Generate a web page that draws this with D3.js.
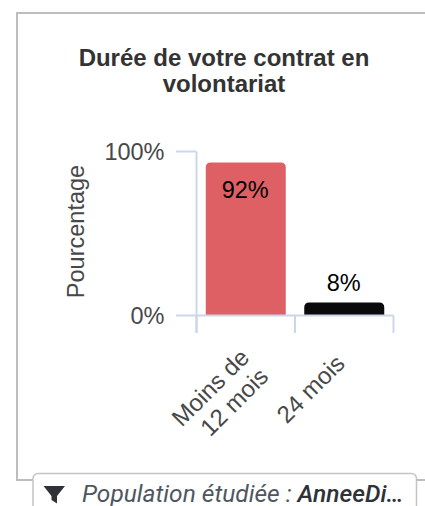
<!DOCTYPE html>
<html><head><meta charset="utf-8">
<script src="https://cdn.jsdelivr.net/npm/d3@7/dist/d3.min.js"></script>
<style>html,body{margin:0;padding:0;background:#fff;overflow:hidden}svg{display:block}</style>
</head><body><svg id="c" width="425" height="506"></svg>
<script>
const categories = [["Moins de","12 mois"],["24 mois"]];
const barHeights = [93.3, 8];
const valueLabels = ["92%","8%"];
const barColors = ["#DE6065","#0A0A0A"];
const yTickValues = [0, 100];
const titleLines = ["Durée de votre contrat en","volontariat"];
const yTitle = "Pourcentage";
const filterLabel = "Population étudiée : ";
const filterValue = "AnneeDi…";

const svg = d3.select("#c");
const font = "Liberation Sans, Arial, sans-serif";
const axisColor = "#CCD6EB";

svg.append("path").attr("d","M425,13H17V480H425").attr("fill","none").attr("stroke","#BDBDBD").attr("stroke-width",2);

svg.append("text").attr("text-anchor","middle").attr("font-family",font).attr("font-weight","bold")
  .attr("font-size",24).attr("fill","#333")
  .selectAll("tspan").data(titleLines).join("tspan")
  .attr("x",224).attr("y",(d,i)=>65.5+i*26).text(d=>d);

const y = d3.scaleLinear().domain([0,100]).range([315.5,151.5]);
const x = d3.scaleBand().domain(categories.map((d,i)=>i)).range([196.5,393.5]);
const barW = 80;

const g = svg.append("g");
g.selectAll("line.yt").data(yTickValues).join("line").attr("class","yt")
  .attr("x1",176).attr("x2",196.5).attr("y1",d=>y(d)).attr("y2",d=>y(d))
  .attr("stroke",axisColor).attr("stroke-width",2);
g.append("line").attr("x1",196.5).attr("x2",196.5).attr("y1",y(100)).attr("y2",333)
  .attr("stroke",axisColor).attr("stroke-width",2);

svg.selectAll("text.yl").data(yTickValues).join("text").attr("class","yl")
  .attr("x",164.5).attr("y",d=>y(d)+8.5).attr("text-anchor","end").attr("font-family",font)
  .attr("font-size",23.5).attr("fill","#484848").text(d=>d+"%");

svg.append("text").attr("transform","translate(84,231.5) rotate(-90)").attr("text-anchor","middle")
  .attr("font-family",font).attr("font-size",23.5).attr("fill","#484848").text(yTitle);

const r = 5;
svg.selectAll("path.bar").data(barHeights).join("path").attr("class","bar")
  .attr("fill",(d,i)=>barColors[i])
  .attr("d",(d,i)=>{
    const cx = x(i)+x.bandwidth()/2, l = cx-barW/2, rr = cx+barW/2, t = y(d), b = y(0);
    const p = d3.path();
    p.moveTo(l,b); p.lineTo(l,t+r); p.quadraticCurveTo(l,t,l+r,t);
    p.lineTo(rr-r,t); p.quadraticCurveTo(rr,t,rr,t+r); p.lineTo(rr,b); p.closePath();
    return p.toString();
  });

g.raise();
const xAxisG = svg.append("g");
xAxisG.append("line").attr("x1",196.5).attr("x2",393.5).attr("y1",y(0)).attr("y2",y(0))
  .attr("stroke",axisColor).attr("stroke-width",2);
xAxisG.selectAll("line.xt").data([0,1,2]).join("line").attr("class","xt")
  .attr("x1",d=>x.range()[0]+d*x.bandwidth()).attr("x2",d=>x.range()[0]+d*x.bandwidth())
  .attr("y1",y(0)).attr("y2",333).attr("stroke",axisColor).attr("stroke-width",2);

svg.selectAll("text.v").data(valueLabels).join("text").attr("class","v")
  .attr("x",(d,i)=>x(i)+x.bandwidth()/2-0.5).attr("text-anchor","middle")
  .attr("y",(d,i)=> i===0 ? y(barHeights[i])+35.5 : y(barHeights[i])-11.5)
  .attr("font-family",font).attr("font-size",23.5).attr("fill","#000").text(d=>d);

const lab = svg.selectAll("g.xl").data(categories).join("g").attr("class","xl")
  .attr("transform",(d,i)=>`translate(${x(i)+x.bandwidth()/2+ (d.length>1?0:-3)},${d.length>1?354:360}) rotate(-45)`);
lab.each(function(d){
  d3.select(this).selectAll("text").data(d).join("text")
    .attr("text-anchor","end").attr("x",0).attr("y",(t,i)=>i*27+7)
    .attr("font-family",font).attr("font-size",24).attr("fill","#484848").text(t=>t);
});

svg.append("rect").attr("x",33).attr("y",473.5).attr("width",383.5).attr("height",50).attr("rx",5)
  .attr("fill","#fff").attr("stroke","#C4C4C4").attr("stroke-width",1.5);
svg.append("path").attr("d","M43.5,486H65L57,496V503.5L51.5,500V496Z").attr("fill","#2F3237");
const ft = svg.append("text").attr("x",82).attr("y",501.5).attr("font-family","Roboto, sans-serif").attr("font-size",24.5);
ft.append("tspan").attr("font-style","italic").attr("fill","#4F5660").text(filterLabel);
ft.append("tspan").attr("font-style","italic").attr("font-weight","500").attr("fill","#2F3237").text(filterValue);
</script></body></html>
